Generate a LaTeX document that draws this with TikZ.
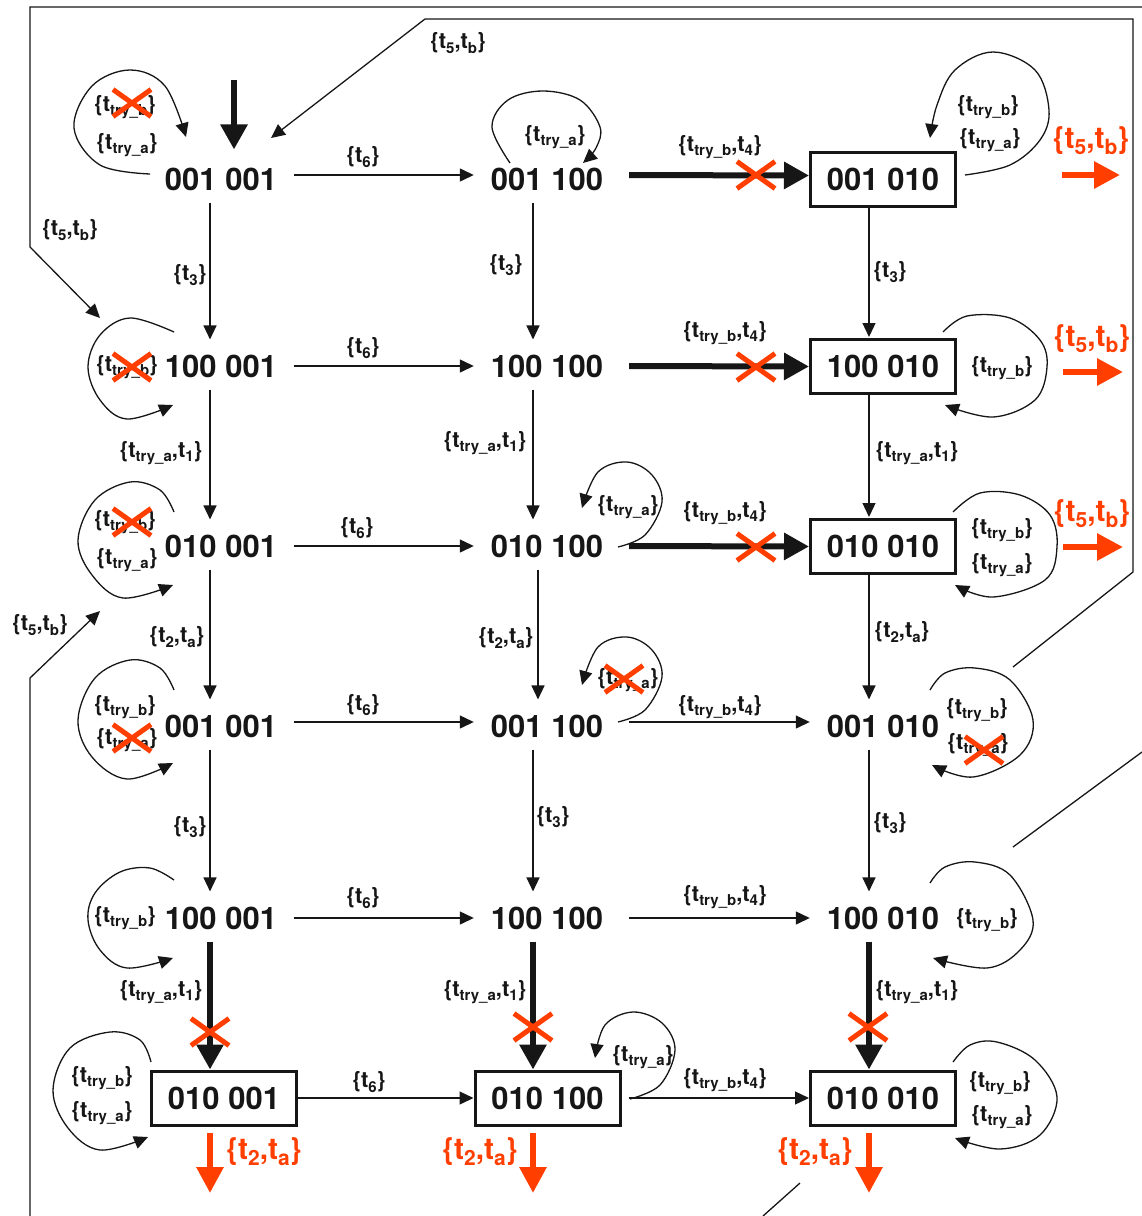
\documentclass[tikz,border=0pt]{standalone}
\usepackage{fontspec}
\setmainfont{TeX Gyre Heros}
\usetikzlibrary{arrows.meta,calc}
\definecolor{xred}{RGB}{255,62,0}
\definecolor{ink}{RGB}{22,22,22}
\newcommand\sbs[1]{\raisebox{-4.5pt}{\fontsize{15}{15}\selectfont #1}}
\newcommand\sbr[1]{\raisebox{-6pt}{\fontsize{21}{21}\selectfont #1}}
\newcommand\trl[1]{\{t\sbs{try\_#1}\}}
\begin{document}
\begin{tikzpicture}[x=1pt,y=-1pt,
  st/.style={font=\fontsize{31}{31}\selectfont\bfseries, text=ink, inner xsep=17pt, inner ysep=12pt},
  bst/.style={font=\fontsize{31}{31}\selectfont\bfseries, text=ink, draw=ink, line width=3pt, minimum width=145pt, minimum height=54pt, inner sep=0pt},
  lab/.style={font=\fontsize{22}{22}\selectfont\bfseries, text=ink, inner sep=0pt},
  rlab/.style={font=\fontsize{30}{30}\selectfont\bfseries, text=xred, inner sep=0pt},
  thinarr/.style={line width=1.3pt, draw=ink, -{Triangle[length=14pt,width=13pt]}},
  thickarr/.style={line width=6pt, draw=ink, -{Triangle[length=25pt,width=26pt]}},
  redarr/.style={line width=6pt, draw=xred, -{Triangle[length=26pt,width=26pt]}},
  loopst/.style={line width=1.3pt, draw=ink, -{Triangle[length=14pt,width=13pt]}},
  wire/.style={line width=1.3pt, draw=ink},
  redx/.pic={\draw[xred, line width=5pt] (-19,-13.5) -- (19,13.5) (-19,13.5) -- (19,-13.5);}
]
\useasboundingbox (0,0) rectangle (1142,1216);

% states
\node[st]  (n11) at (221,179)    {001 001};
\node[st]  (n12) at (547,179)    {001 100};
\node[bst] (n13) at (883,179.5)  {001 010};
\node[st]  (n21) at (221,366)    {100 001};
\node[st]  (n22) at (547,366)    {100 100};
\node[bst] (n23) at (883,366.5)  {100 010};
\node[st]  (n31) at (221,546)    {010 001};
\node[st]  (n32) at (547,546)    {010 100};
\node[bst] (n33) at (883,546.5)  {010 010};
\node[st]  (n41) at (221,726)    {001 001};
\node[st]  (n42) at (547,726)    {001 100};
\node[st]  (n43) at (883,726)    {001 010};
\node[st]  (n51) at (221,918)    {100 001};
\node[st]  (n52) at (547,918)    {100 100};
\node[st]  (n53) at (883,918)    {100 010};
\node[bst] (n61) at (224,1098)   {010 001};
\node[bst] (n62) at (547.5,1098) {010 100};
\node[bst] (n63) at (883,1098)   {010 010};

\coordinate (v1) at (210,0);
\coordinate (v2) at (533,0);
\coordinate (v2b) at (538,0);
\coordinate (v3) at (869,0);

% vertical edges
\draw[thinarr, shorten >=3pt] (n11.south -| v1) -- (n21.north -| v1);
\draw[thinarr, shorten >=3pt] (n21.south -| v1) -- (n31.north -| v1);
\draw[thinarr, shorten >=3pt] (n31.south -| v1) -- (n41.north -| v1);
\draw[thinarr, shorten >=3pt] (n41.south -| v1) -- (n51.north -| v1);
\draw[thickarr] (n51.south -| v1) -- (n61.north -| v1);
\draw[thinarr, shorten >=3pt] (n12.south -| v2) -- (n22.north -| v2);
\draw[thinarr, shorten >=3pt] (n22.south -| v2) -- (n32.north -| v2);
\draw[thinarr, shorten >=3pt] (n32.south -| v2b) -- (n42.north -| v2b);
\draw[thinarr, shorten >=3pt] (n42.south -| v2) -- (n52.north -| v2);
\draw[thickarr] (n52.south -| v2) -- (n62.north -| v2);
\draw[thinarr, shorten >=1pt] (n13.south -| v3) -- (n23.north -| v3);
\draw[thinarr, shorten >=1pt] (n23.south -| v3) -- (n33.north -| v3);
\draw[thinarr, shorten >=3pt] (n33.south -| v3) -- (n43.north -| v3);
\draw[thinarr, shorten >=3pt] (n43.south -| v3) -- (n53.north -| v3);
\draw[thickarr] (n53.south -| v3) -- (n63.north -| v3);

% horizontal edges
\draw[thinarr] ([yshift=4pt]n11.east) -- ([yshift=4pt]n12.west);
\draw[thickarr, shorten <=9pt] ([yshift=4pt]n12.east) -- ([yshift=4pt]n13.west);
\draw[thinarr] (n21.east) -- (n22.west);
\draw[thickarr, shorten <=9pt] (n22.east) -- (n23.west);
\draw[thinarr] (n31.east) -- (n32.west);
\draw[thickarr, shorten <=9pt] (n32.east) -- (n33.west);
\draw[thinarr] ([yshift=4pt]n41.east) -- ([yshift=4pt]n42.west);
\draw[thinarr, shorten <=9pt] ([yshift=4pt]n42.east) -- ([yshift=4pt]n43.west);
\draw[thinarr] (n51.east) -- (n52.west);
\draw[thinarr, shorten <=9pt] (n52.east) -- (n53.west);
\draw[thinarr] (n61.east) -- (n62.west);
\draw[thinarr, shorten <=7pt] (n62.east) -- (n63.west);

% initial arrow
\coordinate (init) at (234,80);
\draw[thickarr, shorten >=6pt] (init) -- (init |- n11.north);

% red exit arrows
\coordinate (r1a) at (1062,175); \coordinate (r1b) at (1120,175);
\coordinate (r2a) at (1063,372); \coordinate (r2b) at (1123,372);
\coordinate (r3a) at (1063,547); \coordinate (r3b) at (1123,547);
\draw[redarr] (r1a) -- (r1b);
\draw[redarr] (r2a) -- (r2b);
\draw[redarr] (r3a) -- (r3b);
\coordinate (b1) at (210,1193); \coordinate (b2) at (533,1193); \coordinate (b3) at (869,1193);
\draw[redarr, shorten <=6.5pt] (n61.south -| b1) -- (b1);
\draw[redarr, shorten <=6.5pt] (n62.south -| b2) -- (b2);
\draw[redarr, shorten <=6.5pt] (n63.south -| b3) -- (b3);

% long wires
\draw[thinarr] (1142,7) -- (30,7) -- (30,247) -- (100,318);
\draw[thinarr] (1013,667) -- (1133,572) -- (1133,19) -- (425,19) -- (271,138);
\draw[thinarr] (30,1216) -- (30,678) -- (100,611);
\draw[wire] (1142,752) -- (1013,847);
\draw[wire] (763,1216) -- (800,1183);

% self loops
\draw[loopst] plot[smooth, tension=0.6] coordinates {(150,174) (100,165) (74,128) (92,86) (130,70) (165,86) (186,137)};
\draw[loopst] plot[smooth, tension=0.6] coordinates {(510,163) (492,127) (508,100) (543,91) (580,100) (600,127) (596,148) (583,163)};
\draw[loopst] plot[smooth, tension=0.6] coordinates {(965,175) (1010,165) (1040,140) (1049,110) (1035,70) (993,52) (955,70) (937,105) (930,138)};
\draw[loopst] plot[smooth, tension=0.6] coordinates {(174,332) (130,318) (100,335) (88,367) (100,400) (127,419) (173,405)};
\draw[loopst] plot[smooth, tension=0.6] coordinates {(943,332) (967,316) (1010,318) (1040,340) (1047,367) (1035,400) (993,417) (945,405)};
\draw[loopst] plot[smooth, tension=0.6] coordinates {(174,512) (160,490) (130,482) (95,500) (78,540) (92,575) (123,598) (173,585)};
\draw[loopst] plot[smooth, tension=0.6] coordinates {(618,547) (645,535) (662,502) (652,475) (627,462) (598,472) (582,508)};
\draw[loopst] plot[smooth, tension=0.6] coordinates {(953,512) (980,493) (1020,495) (1050,515) (1057,547) (1045,580) (993,597) (955,585)};
\draw[loopst] plot[smooth, tension=0.6] coordinates {(174,690) (160,668) (130,660) (95,678) (78,720) (92,757) (127,779) (173,763)};
\draw[loopst] plot[smooth, tension=0.6] coordinates {(618,722) (645,710) (662,677) (652,650) (627,637) (598,647) (582,685)};
\draw[loopst] plot[smooth, tension=0.6] coordinates {(930,690) (945,673) (975,668) (1010,680) (1033,720) (1020,755) (973,777) (932,765)};
\draw[loopst] plot[smooth, tension=0.6] coordinates {(174,880) (150,868) (120,872) (95,893) (88,920) (100,950) (127,968) (173,958)};
\draw[loopst] plot[smooth, tension=0.6] coordinates {(930,883) (945,867) (975,862) (1010,875) (1033,920) (1020,950) (987,968) (933,958)};
\draw[loopst] plot[smooth, tension=0.6] coordinates {(151,1062) (140,1040) (110,1032) (70,1048) (53,1090) (68,1128) (100,1150) (148,1137)};
\draw[loopst] plot[smooth, tension=0.6] coordinates {(630,1099) (660,1085) (675,1050) (662,1023) (633,1012) (605,1025) (595,1058)};
\draw[loopst] plot[smooth, tension=0.6] coordinates {(953,1062) (970,1045) (997,1042) (1035,1060) (1057,1097) (1040,1135) (1000,1149) (955,1138)};

% edge labels
\node[lab] (e1) at (363,157) {\{t\sbs{6}\}};
\node[lab] (e2) at (363,348) {\{t\sbs{6}\}};
\node[lab] (e3) at (357,528) {\{t\sbs{6}\}};
\node[lab] (e4) at (363,705) {\{t\sbs{6}\}};
\node[lab] (e5) at (363,898) {\{t\sbs{6}\}};
\node[lab] (e6) at (369,1082) {\{t\sbs{6}\}};
\node[lab] (f1) at (720,147) {\{t\sbs{try\_b},t\sbs{4}\}};
\node[lab] (f2) at (725,333) {\{t\sbs{try\_b},t\sbs{4}\}};
\node[lab] (f3) at (725,513) {\{t\sbs{try\_b},t\sbs{4}\}};
\node[lab] (f4) at (720,707) {\{t\sbs{try\_b},t\sbs{4}\}};
\node[lab] (f5) at (725,897) {\{t\sbs{try\_b},t\sbs{4}\}};
\node[lab] (f6) at (725,1080) {\{t\sbs{try\_b},t\sbs{4}\}};
\node[lab] (g1) at (190,275) {\{t\sbs{3}\}};
\node[lab] (g2) at (506,265) {\{t\sbs{3}\}};
\node[lab] (g3) at (890,272) {\{t\sbs{3}\}};
\node[lab] (g4) at (190,827) {\{t\sbs{3}\}};
\node[lab] (g5) at (553,817) {\{t\sbs{3}\}};
\node[lab] (g6) at (890,823) {\{t\sbs{3}\}};
\node[lab] (h1) at (161,453) {\{t\sbs{try\_a},t\sbs{1}\}};
\node[lab] (h2) at (485,443) {\{t\sbs{try\_a},t\sbs{1}\}};
\node[lab] (h3) at (917,453) {\{t\sbs{try\_a},t\sbs{1}\}};
\node[lab] (h4) at (161,992) {\{t\sbs{try\_a},t\sbs{1}\}};
\node[lab] (h5) at (485,992) {\{t\sbs{try\_a},t\sbs{1}\}};
\node[lab] (h6) at (917,992) {\{t\sbs{try\_a},t\sbs{1}\}};
\node[lab] (k1) at (177,637) {\{t\sbs{2},t\sbs{a}\}};
\node[lab] (k2) at (506,638) {\{t\sbs{2},t\sbs{a}\}};
\node[lab] (k3) at (902,632) {\{t\sbs{2},t\sbs{a}\}};
\node[lab] (m1) at (70,230) {\{t\sbs{5},t\sbs{b}\}};
\node[lab] (m2) at (458,43) {\{t\sbs{5},t\sbs{b}\}};
\node[lab] (m3) at (40,625) {\{t\sbs{5},t\sbs{b}\}};

% loop labels
\node[lab] (q1) at (125,107) {\trl{b}};
\node[lab] (q2) at (127,145) {\trl{a}};
\node[lab] (q3) at (555,137) {\trl{a}};
\node[lab] (q4) at (988,107) {\trl{b}};
\node[lab] (q5) at (990,140) {\trl{a}};
\node[lab] (q6) at (127,367) {\trl{b}};
\node[lab] (q7) at (1002,368) {\trl{b}};
\node[lab] (q8) at (125,522) {\trl{b}};
\node[lab] (q9) at (127,560) {\trl{a}};
\node[lab] (q10) at (628,507) {\trl{a}};
\node[lab] (q11) at (1002,530) {\trl{b}};
\node[lab] (q12) at (1002,565) {\trl{a}};
\node[lab] (q13) at (125,707) {\trl{b}};
\node[lab] (q14) at (127,740) {\trl{a}};
\node[lab] (q15) at (628,680) {\trl{a}};
\node[lab] (q16) at (977,710) {\trl{b}};
\node[lab] (q17) at (978,745) {\trl{a}};
\node[lab] (q18) at (125,918) {\trl{b}};
\node[lab] (q19) at (987,920) {\trl{b}};
\node[lab] (q20) at (102,1078) {\trl{b}};
\node[lab] (q21) at (102,1113) {\trl{a}};
\node[lab] (q22) at (643,1057) {\trl{a}};
\node[lab] (q23) at (1000,1083) {\trl{b}};
\node[lab] (q24) at (1002,1117) {\trl{a}};

% red labels
\node[rlab] (r1) at (1091,141) {\{t\sbr{5},t\sbr{b}\}};
\node[rlab] (r2) at (1092,339) {\{t\sbr{5},t\sbr{b}\}};
\node[rlab] (r3) at (1092,514) {\{t\sbr{5},t\sbr{b}\}};
\node[rlab] (r4) at (264,1152) {\{t\sbr{2},t\sbr{a}\}};
\node[rlab] (r5) at (480,1152) {\{t\sbr{2},t\sbr{a}\}};
\node[rlab] (r6) at (815,1152) {\{t\sbr{2},t\sbr{a}\}};

% red crosses
\pic at (756,175) {redx};
\pic at (756,367) {redx};
\pic at (756,547) {redx};
\pic at (210,1032) {redx};
\pic at (533,1027) {redx};
\pic at (868,1027) {redx};
\pic at (132,103) {redx};
\pic at (132,367) {redx};
\pic at (132,522) {redx};
\pic at (132,738) {redx};
\pic at (624,679) {redx};
\pic at (984,750) {redx};
\end{tikzpicture}
\end{document}
